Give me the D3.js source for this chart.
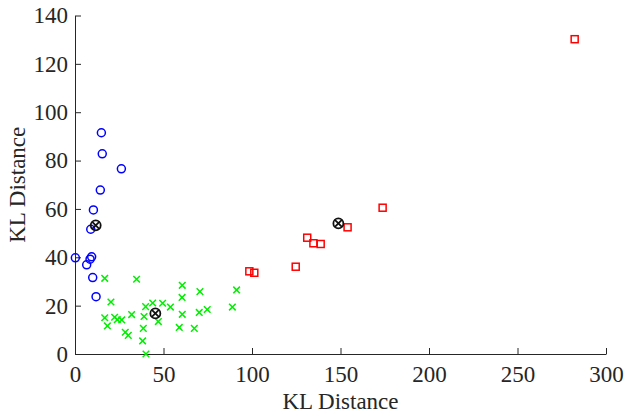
<!DOCTYPE html>
<html>
<head>
<meta charset="utf-8">
<script src="https://cdn.jsdelivr.net/npm/d3@7"></script>
<style>
  body { margin: 0; background: #fff; }
  svg { display: block; }
</style>
</head>
<body>
<script>
  // cluster 1 (blue circles)
  var blueX = [14.9, 15.4, 26.2, 14.3, 10.4, 8.9, 0.2, 9.4, 8.5, 6.6, 10.0, 11.9];
  var blueY = [91.5, 82.8, 76.6, 67.8, 59.6, 51.6, 39.8, 40.2, 39.2, 36.9, 31.6, 23.7];

  // cluster 2 (green crosses)
  var greenX = [16.8, 34.8, 20.3, 16.8, 18.3, 22.4, 23.9, 26.4, 32.0, 28.4, 30.1, 39.0, 39.9, 38.6, 38.2,
    40.1, 43.9, 47.1, 49.5, 53.9, 60.6, 60.5, 60.6, 58.9, 70.6, 70.2, 74.7, 67.4, 88.9, 91.3];
  var greenY = [31.3, 30.9, 21.5, 15.0, 11.6, 15.2, 14.2, 14.1, 16.3, 9.0, 7.7, 15.5, 19.6, 10.6, 5.4,
    0.0, 21.1, 13.4, 21.0, 19.4, 28.4, 23.4, 16.4, 11.0, 25.8, 17.2, 18.4, 10.6, 19.4, 26.5];

  // cluster 3 (red squares)
  var redX = [173.8, 154.0, 131.2, 134.7, 138.8, 124.7, 98.5, 101.3, 282.3];
  var redY = [60.5, 52.4, 48.1, 45.8, 45.5, 36.1, 34.2, 33.6, 130.2];

  // cluster centres
  var centerX = [11.7, 45.4, 148.8];
  var centerY = [53.2, 16.8, 54.0];

  var xTicks = [0, 50, 100, 150, 200, 250, 300];
  var yTicks = [0, 20, 40, 60, 80, 100, 120, 140];

  var width = 626, height = 417;
  var margin = { left: 75, right: 20, top: 15.5, bottom: 63 };
  var font = '"Liberation Serif", "Times New Roman", serif';
  var ink = '#262626';

  var svg = d3.select('body').append('svg')
    .attr('width', width)
    .attr('height', height);

  var x = d3.scaleLinear().domain([0, 300]).range([margin.left, width - margin.right]);
  var y = d3.scaleLinear().domain([0, 140]).range([height - margin.bottom, margin.top]);

  function zip(xs, ys) {
    return xs.map(function(v, i) { return { x: v, y: ys[i] }; });
  }

  function styleAxis(g) {
    g.attr('font-family', font).attr('font-size', 23);
    g.selectAll('path, line').attr('stroke', ink).attr('stroke-width', 1);
    g.selectAll('text').attr('fill', ink).style('font-family', font).style('font-size', '23px');
  }

  // axes, ticks pointing inward, no box
  svg.append('g')
    .attr('transform', 'translate(0,' + y(0) + ')')
    .call(d3.axisBottom(x).tickValues(xTicks).tickSizeInner(-6).tickSizeOuter(0).tickPadding(12))
    .call(styleAxis);

  svg.append('g')
    .attr('transform', 'translate(' + x(0) + ',0)')
    .call(d3.axisLeft(y).tickValues(yTicks).tickSizeInner(-6).tickSizeOuter(0).tickPadding(7))
    .call(styleAxis);

  svg.append('text')
    .attr('x', (x(0) + x(300)) / 2)
    .attr('y', 409)
    .attr('text-anchor', 'middle')
    .style('font-family', font)
    .style('font-size', '23px')
    .attr('fill', ink)
    .text('KL Distance');

  svg.append('text')
    .attr('transform', 'translate(25,' + ((y(0) + y(140)) / 2) + ') rotate(-90)')
    .attr('text-anchor', 'middle')
    .style('font-family', font)
    .style('font-size', '23px')
    .attr('fill', ink)
    .text('KL Distance');

  var marks = svg.append('g');

  marks.selectAll('circle.blue')
    .data(zip(blueX, blueY))
    .enter().append('circle')
    .attr('cx', function(d) { return x(d.x); })
    .attr('cy', function(d) { return y(d.y); })
    .attr('r', 4)
    .style('fill', 'none')
    .style('stroke', '#0000ff')
    .style('stroke-width', 1.5);

  var s = 3.3;
  marks.selectAll('path.green')
    .data(zip(greenX, greenY))
    .enter().append('path')
    .attr('d', function(d) {
      var cx = x(d.x), cy = y(d.y);
      return 'M' + (cx - s) + ',' + (cy - s) + 'L' + (cx + s) + ',' + (cy + s) +
        'M' + (cx - s) + ',' + (cy + s) + 'L' + (cx + s) + ',' + (cy - s);
    })
    .style('stroke', '#00ee00')
    .style('stroke-width', 1.5);

  marks.selectAll('rect.red')
    .data(zip(redX, redY))
    .enter().append('rect')
    .attr('x', function(d) { return x(d.x) - 3.5; })
    .attr('y', function(d) { return y(d.y) - 3.5; })
    .attr('width', 7)
    .attr('height', 7)
    .style('fill', 'none')
    .style('stroke', '#ff0000')
    .style('stroke-width', 1.5);

  // centres: circle with a cross
  var c = marks.selectAll('g.centre')
    .data(zip(centerX, centerY))
    .enter().append('g')
    .attr('transform', function(d) { return 'translate(' + x(d.x) + ',' + y(d.y) + ')'; });

  c.append('circle')
    .attr('r', 5)
    .style('fill', 'none')
    .style('stroke', '#111')
    .style('stroke-width', 1.8);

  c.append('path')
    .attr('d', 'M-3.5,-3.5L3.5,3.5M-3.5,3.5L3.5,-3.5')
    .style('stroke', '#111')
    .style('stroke-width', 1.8);
</script>
</body>
</html>
